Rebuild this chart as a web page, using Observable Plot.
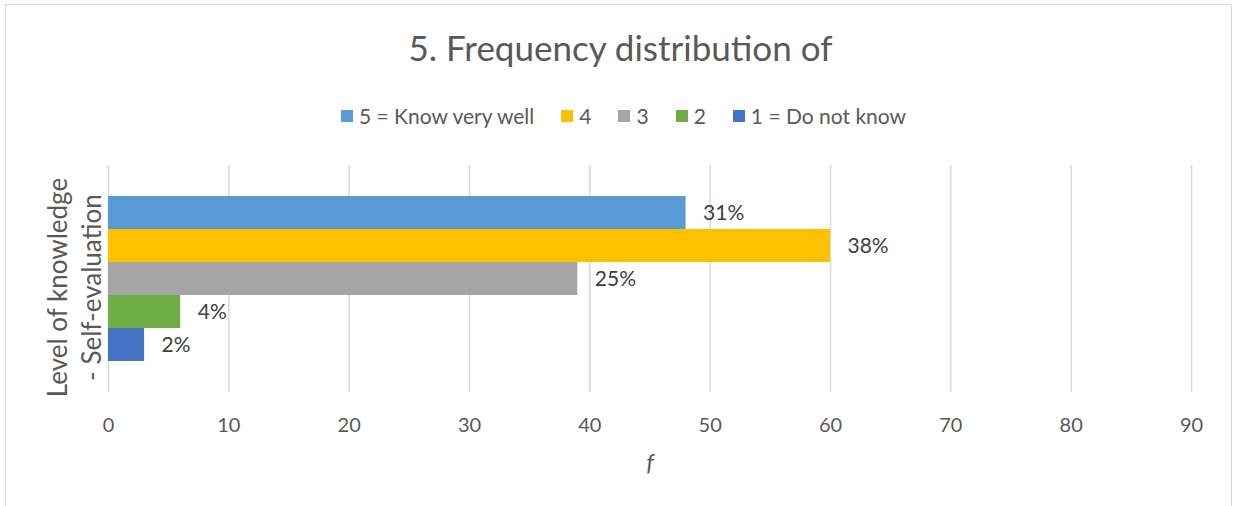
<!DOCTYPE html>
<html>
<head>
<meta charset="utf-8">
<script src="https://cdn.jsdelivr.net/npm/d3@7"></script>
<script src="https://cdn.jsdelivr.net/npm/@observablehq/plot@0.6"></script>
<style>
  body { margin: 0; background: #fff; font-family: Lato, sans-serif; }
  #wrap { position: relative; width: 1233px; height: 506px; overflow: hidden; background: #fff; }
  #frame { position: absolute; left: 5px; top: 4px; width: 1227px; height: 600px; border: 1.5px solid #d9d9d9; box-sizing: border-box; }
  #title { position: absolute; left: 0; width: 1241px; top: 30px; text-align: center; font-size: 35px; line-height: 1; color: #595959; }
  #legend { position: absolute; left: 0; width: 1247px; top: 105px; display: flex; justify-content: center; gap: 27px; font-size: 21px; line-height: 1; color: #595959; }
  #legend .item { display: flex; align-items: center; gap: 6px; }
  #legend .sw { width: 12px; height: 12px; }
  #plot { position: absolute; left: 0; top: 140px; }
</style>
</head>
<body>
<div id="wrap">
  <div id="frame"></div>
  <div id="title"></div>
  <div id="legend"></div>
  <div id="plot"></div>
</div>
<script>
// Chart content
const titleText = "5. Frequency distribution of";
const categoryLabel = "Level of knowledge\n- Self-evaluation";
const xLabel = "f";

// One bar per answer level, in legend order
const seriesNames = ["5 = Know very well", "4", "3", "2", "1 = Do not know"];
const counts = [48, 60, 39, 6, 3];
const seriesColors = ["#5b9bd5", "#ffc000", "#a5a5a5", "#70ad47", "#4472c4"];

// Axis ticks
const xTicks = [0, 10, 20, 30, 40, 50, 60, 70, 80, 90];

const total = d3.sum(counts);
const rows = seriesNames.map((name, i) => ({
  series: name,
  count: counts[i],
  share: Math.round((counts[i] / total) * 100) + "%"
}));

document.getElementById("title").textContent = titleText;

// Legend swatches
const legend = d3.select("#legend");
seriesNames.forEach((name, i) => {
  const item = legend.append("div").attr("class", "item");
  item.append("div").attr("class", "sw").style("background", seriesColors[i]);
  item.append("span").text(name);
});

const chart = Plot.plot({
  width: 1233,
  height: 340,
  marginLeft: 108,
  marginRight: 42,
  marginTop: 25,
  marginBottom: 88,
  style: { fontFamily: "Lato, sans-serif", fontSize: "20px", color: "#595959", background: "transparent" },
  x: { domain: [0, 90], ticks: xTicks, label: null },
  y: { domain: seriesNames, paddingInner: 0, paddingOuter: 0.878, axis: null },
  color: { domain: seriesNames, range: seriesColors },
  marks: [
    Plot.gridX(xTicks, { stroke: "#d9d9d9", strokeOpacity: 1, strokeWidth: 1.5 }),
    Plot.barX(rows, { x: "count", y: "series", fill: "series", insetTop: 0, insetBottom: 0 }),
    Plot.text(rows, { x: "count", y: "series", text: "share", textAnchor: "start", dx: 17, fill: "#404040", fontSize: 21 }),
    Plot.axisX(xTicks, { tickSize: 0, tickPadding: 25, fill: "#595959", fontSize: 20, label: null }),
    Plot.text([xLabel], { text: (d) => d, frameAnchor: "bottom", dy: 71, fontStyle: "italic", fontSize: 24, fill: "#595959", lineAnchor: "middle" }),
    Plot.text([categoryLabel], { text: (d) => d, frameAnchor: "left", rotate: -90, textAnchor: "middle", lineAnchor: "middle", lineHeight: 1.3, dx: -35, dy: 8.5, fontSize: 26, fill: "#595959" })
  ]
});
document.getElementById("plot").appendChild(chart);
</script>
</body>
</html>
